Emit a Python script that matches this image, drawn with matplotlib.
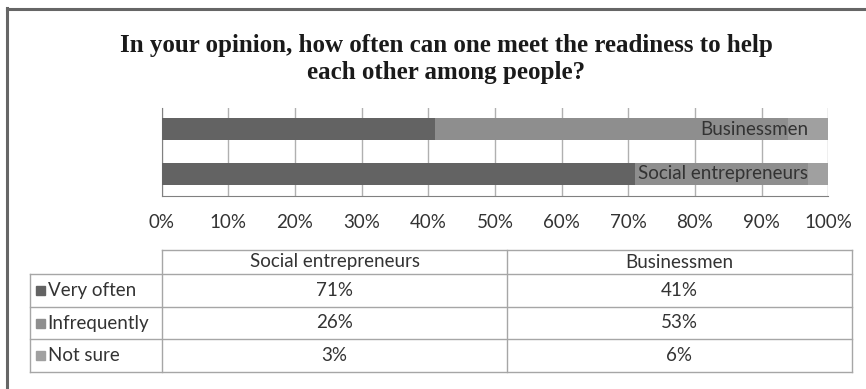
import matplotlib
matplotlib.use("Agg")
import matplotlib.pyplot as plt
from matplotlib.lines import Line2D
from matplotlib.patches import Rectangle

# Survey data
categories = ["Social entrepreneurs", "Businessmen"]
series_names = ["Very often", "Infrequently", "Not sure"]
very_often = [71, 41]
infrequently = [26, 53]
not_sure = [3, 6]
x_ticks = [0, 10, 20, 30, 40, 50, 60, 70, 80, 90, 100]
title = "In your opinion, how often can one meet the readiness to help\neach other among people?"

series_values = [very_often, infrequently, not_sure]
series_colors = ["#636363", "#8e8e8e", "#a0a0a0"]

W, H = 866, 389
fig = plt.figure(figsize=(W / 100, H / 100), dpi=100)
fig.patch.set_facecolor("white")

LABEL_FONT = "Lato"
LABEL_SIZE = 13.5
TXT = "#333333"


def fx(px):
    return px / W


def fy(py):
    return 1 - py / H


def hline(x0, x1, y, color="#a6a6a6", lw=1.0):
    fig.add_artist(Line2D([fx(x0), fx(x1)], [fy(y), fy(y)], color=color, lw=lw,
                          transform=fig.transFigure))


def vline(x, y0, y1, color="#a6a6a6", lw=1.0):
    fig.add_artist(Line2D([fx(x), fx(x)], [fy(y0), fy(y1)], color=color, lw=lw,
                          transform=fig.transFigure))


# outer frame (top and left edges)
hline(7, W, 8.5, color="#666666", lw=2.2)
vline(7.5, 8, H, color="#666666", lw=2.2)

# title
fig.text(fx(446), fy(59), title, ha="center", va="center", family="Liberation Serif",
         fontweight="bold", fontsize=18, color="#1a1a1a", linespacing=1.2)

# bar chart area
ax_l, ax_r, ax_t, ax_b = 161.7, 828.3, 107.7, 195.5
ax = fig.add_axes([fx(ax_l), fy(ax_b), fx(ax_r - ax_l), (ax_b - ax_t) / H])
ypos = list(range(len(categories)))
left = [0] * len(categories)
for vals, col, name in zip(series_values, series_colors, series_names):
    ax.barh(ypos, vals, left=left, height=0.5, color=col, label=name, zorder=3)
    left = [a + b for a, b in zip(left, vals)]

# category name drawn inside each bar, right-aligned
for i, cat in enumerate(categories):
    ax.text(97, i, cat, ha="right", va="center", family=LABEL_FONT,
            fontsize=LABEL_SIZE, color=TXT, zorder=4)

ax.set_xlim(0, 100)
ax.set_ylim(-0.485, 1.48)
ax.set_xticks(x_ticks)
ax.set_xticklabels([])
ax.set_yticks([])
ax.grid(axis="x", color="#b0b0b0", lw=1.0, zorder=0)
for s in ["top", "right"]:
    ax.spines[s].set_visible(False)
ax.spines["left"].set_color("#808080")
ax.spines["bottom"].set_color("#808080")
ax.tick_params(axis="x", length=0)

# axis tick labels placed below the plot
for t in x_ticks:
    px = ax_l + (ax_r - ax_l) * t / 100
    fig.text(fx(px), fy(223), f"{t}%", ha="center", va="center", family=LABEL_FONT,
             fontsize=LABEL_SIZE, color=TXT)

# data table
t_left, t_col0, t_col1, t_right = 30, 162.3, 507, 851.7
row_y = [250, 274, 307, 339, 372]
tcol = "#a6a6a6"
hline(t_col0, t_right, row_y[0], color=tcol)
for y in row_y[1:]:
    hline(t_left, t_right, y, color=tcol)
vline(t_left, row_y[1], row_y[-1], color=tcol)
vline(t_col0, row_y[0], row_y[-1], color=tcol)
vline(t_col1, row_y[0], row_y[-1], color=tcol)
vline(t_right, row_y[0], row_y[-1], color=tcol)

col_centers = [(t_col0 + t_col1) / 2, (t_col1 + t_right) / 2]
hdr_y = (row_y[0] + row_y[1]) / 2
for c, cat in zip(col_centers, categories):
    fig.text(fx(c), fy(hdr_y), cat, ha="center", va="center", family=LABEL_FONT,
             fontsize=LABEL_SIZE, color=TXT)

for r, (name, vals, col) in enumerate(zip(series_names, series_values, series_colors)):
    yc = (row_y[r + 1] + row_y[r + 2]) / 2
    fig.add_artist(Rectangle((fx(35.5), fy(yc + 4.5)), fx(9), 9 / H, color=col,
                             transform=fig.transFigure))
    fig.text(fx(47.5), fy(yc), name, ha="left", va="center", family=LABEL_FONT,
             fontsize=LABEL_SIZE, color=TXT)
    for c, v in zip(col_centers, vals):
        fig.text(fx(c), fy(yc), f"{v}%", ha="center", va="center", family=LABEL_FONT,
                 fontsize=LABEL_SIZE, color=TXT)

fig.savefig("out.png", dpi=100)
